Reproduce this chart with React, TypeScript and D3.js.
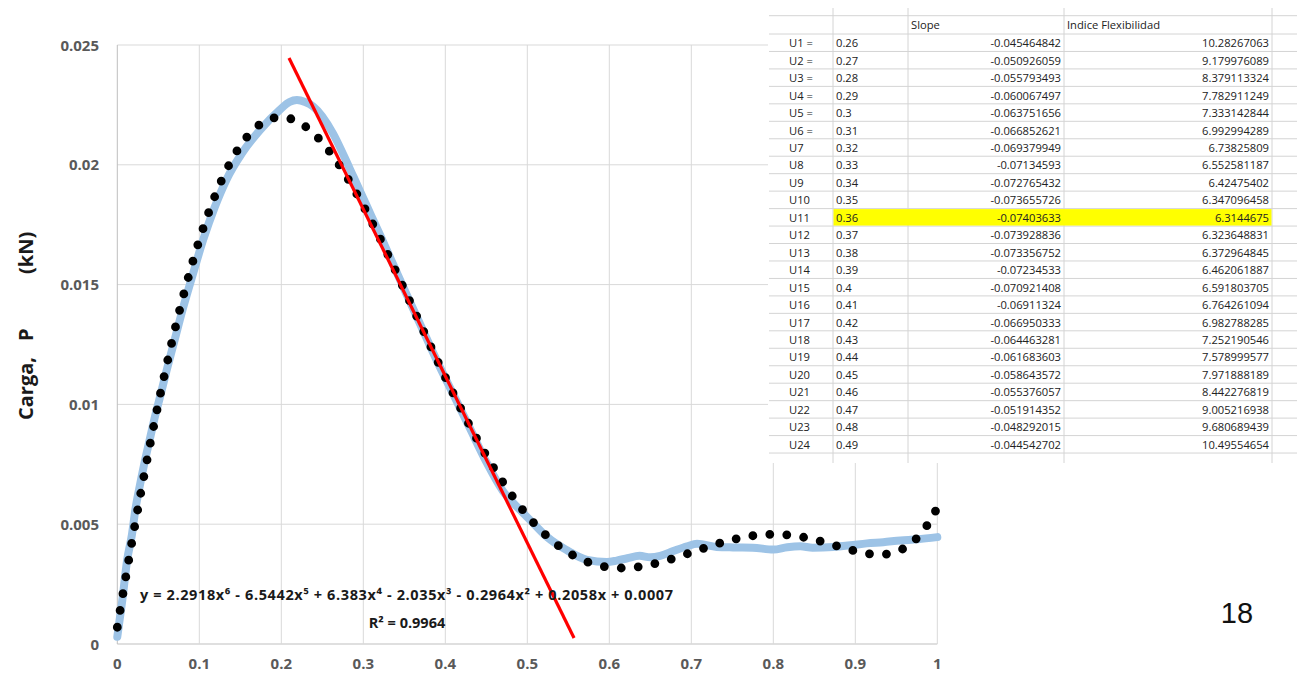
import React from 'react';
import * as d3 from 'd3';

const W = 1297;
const H = 675;

// Measured load-displacement curve
const loadX = [0, 0.006, 0.012, 0.018, 0.022, 0.028, 0.034, 0.04, 0.046, 0.052, 0.06, 0.07, 0.08, 0.091, 0.105, 0.119, 0.133, 0.152, 0.174, 0.198, 0.21, 0.219, 0.229, 0.239, 0.263, 0.276, 0.288, 0.304, 0.32, 0.337, 0.35, 0.37, 0.39, 0.41, 0.43, 0.45, 0.47, 0.491, 0.507, 0.524, 0.548, 0.573, 0.597, 0.609, 0.622, 0.637, 0.65, 0.662, 0.678, 0.695, 0.707, 0.731, 0.751, 0.775, 0.8, 0.817, 0.833, 0.848, 0.873, 0.894, 0.914, 0.934, 0.955, 0.976, 1.0];
const loadY = [0.0003, 0.0018, 0.0035, 0.0046, 0.0056, 0.0067, 0.0077, 0.0086, 0.0095, 0.0103, 0.0114, 0.0127, 0.014, 0.0153, 0.0169, 0.01825, 0.01937, 0.02048, 0.02145, 0.02229, 0.02262, 0.0227, 0.02262, 0.02243, 0.02131, 0.0204, 0.0195, 0.0183, 0.0171, 0.0158, 0.0148, 0.0133, 0.0118, 0.0104, 0.009, 0.0076, 0.0064, 0.0056, 0.00505, 0.00447, 0.00392, 0.00351, 0.00342, 0.00348, 0.00358, 0.00368, 0.00362, 0.00368, 0.00388, 0.00408, 0.00418, 0.00405, 0.00403, 0.00402, 0.00394, 0.00404, 0.00408, 0.00402, 0.00405, 0.00412, 0.0042, 0.00425, 0.00432, 0.00437, 0.00446];

// 6th-degree polynomial trend line, highest power first
const trendCoefficients = [2.2918, -6.5442, 6.383, -2.035, -0.2964, 0.2058, 0.0007];
const trendEquation = 'y = 2.2918x⁶ - 6.5442x⁵ + 6.383x⁴ - 2.035x³ - 0.2964x² + 0.2058x + 0.0007';
const trendR2 = 'R² = 0.9964';

// Tangent line drawn over the softening branch
const tangentX = [0.2094, 0.557];
const tangentY = [0.02446, 0.00025];

const xTicks = [0, 0.1, 0.2, 0.3, 0.4, 0.5, 0.6, 0.7, 0.8, 0.9, 1];
const xTickLabels = ['0', '0.1', '0.2', '0.3', '0.4', '0.5', '0.6', '0.7', '0.8', '0.9', '1'];
const yTicks = [0, 0.005, 0.01, 0.015, 0.02, 0.025];
const yTickLabels = ['0', '0.005', '0.01', '0.015', '0.02', '0.025'];

// Flexibility index table
const rowLabels = ['U1 =', 'U2 =', 'U3 =', 'U4 =', 'U5 =', 'U6 =', 'U7', 'U8', 'U9', 'U10', 'U11', 'U12', 'U13', 'U14', 'U15', 'U16', 'U17', 'U18', 'U19', 'U20', 'U21', 'U22', 'U23', 'U24'];
const rowU = [0.26, 0.27, 0.28, 0.29, 0.3, 0.31, 0.32, 0.33, 0.34, 0.35, 0.36, 0.37, 0.38, 0.39, 0.4, 0.41, 0.42, 0.43, 0.44, 0.45, 0.46, 0.47, 0.48, 0.49];
const rowSlope = [-0.045464842, -0.050926059, -0.055793493, -0.060067497, -0.063751656, -0.066852621, -0.069379949, -0.07134593, -0.072765432, -0.073655726, -0.07403633, -0.073928836, -0.073356752, -0.07234533, -0.070921408, -0.06911324, -0.066950333, -0.064463281, -0.061683603, -0.058643572, -0.055376057, -0.051914352, -0.048292015, -0.044542702];
const rowIndex = [10.28267063, 9.179976089, 8.379113324, 7.782911249, 7.333142844, 6.992994289, 6.73825809, 6.552581187, 6.42475402, 6.347096458, 6.3144675, 6.323648831, 6.372964845, 6.462061887, 6.591803705, 6.764261094, 6.982788285, 7.252190546, 7.578999577, 7.971888189, 8.442276819, 9.005216938, 9.680689439, 10.49554654];
const highlightRow = 'U11';
const tableHeaders = ['Slope', 'Indice Flexibilidad'];

const pageNumber = '18';

const evalPoly = (c: number[], x: number) => c.reduce((acc, k) => acc * x + k, 0);

function Chart() {
  const x = d3.scaleLinear().domain([0, 1]).range([117.3, 937.3]);
  const y = d3.scaleLinear().domain([0, 0.025]).range([644, 45]);

  const loadPts: [number, number][] = loadX.map((v, i) => [v, loadY[i]]);
  const line = d3
    .line<[number, number]>()
    .x((d) => x(d[0]))
    .y((d) => y(d[1]))
    .curve(d3.curveMonotoneX);

  const trendPts: [number, number][] = d3.range(0, 1.0001, 0.0025).map((v) => [v, evalPoly(trendCoefficients, v)]);
  const trendLine = d3.line<[number, number]>().x((d) => x(d[0])).y((d) => y(d[1]));

  const axisFont = "'Open Sans', 'DejaVu Sans', sans-serif";
  const gridColor = '#d9d9d9';

  return (
    <g>
      {/* gridlines */}
      {yTicks.map((t) => (
        <line key={'gy' + t} x1={x(0)} x2={x(1)} y1={y(t)} y2={y(t)} stroke={t === 0 ? '#bfbfbf' : gridColor} strokeWidth={1} />
      ))}
      {xTicks.map((t) => (
        <line key={'gx' + t} x1={x(t)} x2={x(t)} y1={y(0)} y2={y(0.025)} stroke={t === 0 ? '#bfbfbf' : gridColor} strokeWidth={1} />
      ))}

      {/* tick labels */}
      {yTicks.map((t, i) => (
        <text key={'ly' + t} x={99} y={y(t) + 5.5} textAnchor="end" fontFamily={axisFont} fontWeight={700} fontSize={15} fill="#595959">
          {yTickLabels[i]}
        </text>
      ))}
      {xTicks.map((t, i) => (
        <text key={'lx' + t} x={x(t)} y={669} textAnchor="middle" fontFamily={axisFont} fontWeight={700} fontSize={15} fill="#595959">
          {xTickLabels[i]}
        </text>
      ))}

      {/* axis title */}
      <g transform="rotate(-90)" fontFamily={axisFont} fontWeight={700} fontSize={20} fill="#1a1a1a">
        <text x={-420} y={33}>Carga,</text>
        <text x={-341} y={33}>P</text>
        <text x={-274} y={33}>(kN)</text>
      </g>

      {/* measured curve */}
      <path d={line(loadPts) || ''} fill="none" stroke="#9dc3e6" strokeWidth={8} strokeLinejoin="round" strokeLinecap="round" />

      {/* polynomial trend as round dots */}
      <path d={trendLine(trendPts) || ''} fill="none" stroke="#000" strokeWidth={8.8} strokeLinecap="round" strokeDasharray="0 17" />

      {/* tangent */}
      <line x1={x(tangentX[0])} y1={y(tangentY[0])} x2={x(tangentX[1])} y2={y(tangentY[1])} stroke="#ff0000" strokeWidth={3.2} />

      {/* trend label */}
      <text x={140} y={600} fontFamily={axisFont} fontWeight={700} fontSize={14.5} fill="#1a1a1a" textLength={533} lengthAdjust="spacing">
        {trendEquation}
      </text>
      <text x={407} y={628} textAnchor="middle" fontFamily={axisFont} fontWeight={700} fontSize={14.5} fill="#1a1a1a">
        {trendR2}
      </text>
    </g>
  );
}

function Table() {
  const left = 768;
  const right = W;
  const top = 8;
  const bottom = 463;
  const headerTop = 15.7;
  const firstRowTop = 34;
  const rowH = 17.46;
  const cols = [833, 908, 1064, 1272];
  const font = "'Open Sans', 'DejaVu Sans', sans-serif";
  const fs = 11.2;
  const txt = '#222';
  const lineC = '#d4d4d4';

  const rowTops = rowLabels.map((_, i) => firstRowTop + i * rowH);
  const hLines = [headerTop, firstRowTop, ...rowTops.map((t) => t + rowH)];
  const hi = rowLabels.indexOf(highlightRow);

  return (
    <g>
      <rect x={left} y={0} width={right - left} height={bottom} fill="#fff" />
      {hLines.map((yy, i) => (
        <line key={'h' + i} x1={left + 1} x2={right} y1={yy} y2={yy} stroke={lineC} strokeWidth={1} />
      ))}
      {cols.map((cx) => (
        <line key={'v' + cx} x1={cx} x2={cx} y1={top} y2={bottom} stroke={lineC} strokeWidth={1} />
      ))}
      {hi >= 0 && <rect x={cols[0] + 0.5} y={rowTops[hi] + 0.5} width={cols[3] - cols[0] - 1} height={rowH - 1} fill="#ffff00" />}

      <g fontFamily={font} fontSize={fs} fill={txt}>
        <text x={911} y={headerTop + 13.5}>{tableHeaders[0]}</text>
        <text x={1067} y={headerTop + 13.5}>{tableHeaders[1]}</text>
        {rowLabels.map((lab, i) => {
          const by = rowTops[i] + 13.2;
          return (
            <g key={lab}>
              <text x={789} y={by}>{lab}</text>
              <text x={836} y={by}>{String(rowU[i])}</text>
              <text x={1061} y={by} textAnchor="end">{String(rowSlope[i])}</text>
              <text x={1269} y={by} textAnchor="end">{String(rowIndex[i])}</text>
            </g>
          );
        })}
      </g>
    </g>
  );
}

export default function App() {
  return (
    <svg
      width={W}
      height={H}
      viewBox={`0 0 ${W} ${H}`}
      style={{ position: 'absolute', left: 0, top: 0, background: '#fff' }}
    >
      <rect x={0} y={0} width={W} height={H} fill="#fff" />
      <Chart />
      <Table />
      <text x={1237} y={623} textAnchor="middle" fontFamily="'Liberation Sans', Arial, sans-serif" fontSize={29} fill="#111">
        {pageNumber}
      </text>
    </svg>
  );
}
